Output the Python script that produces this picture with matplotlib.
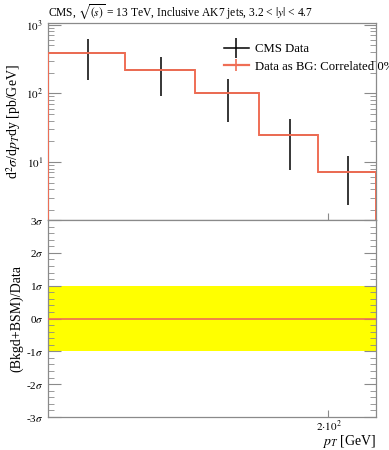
import matplotlib
matplotlib.use('Agg')
import matplotlib.pyplot as plt
import numpy as np
from matplotlib.lines import Line2D
from matplotlib.ticker import FixedLocator, LogLocator, MultipleLocator, NullLocator, NullFormatter

plt.rcParams['font.family'] = ['Liberation Serif', 'DejaVu Serif']
plt.rcParams['mathtext.fontset'] = 'stix'

# pT bin edges [GeV] and cross sections [pb/GeV]
bin_edges = [114, 133, 153, 174, 196, 220]
data_vals = [393, 217, 100, 24.8, 7.2]
data_errs = [235, 125, 62, 17.2, 4.85]
bg_vals = [393, 217, 100, 24.8, 7.2]

sig_ticks = [-3, -2, -1, 0, 1, 2, 3]
sig_labels = ['-3$\\sigma$', '-2$\\sigma$', '-1$\\sigma$', '0$\\sigma$', '1$\\sigma$', '2$\\sigma$', '3$\\sigma$']

red = '#ef6e55'
grey = '#8a8a8a'

edges = np.array(bin_edges, dtype=float)
centers = 0.5 * (edges[:-1] + edges[1:])
half = 0.5 * (edges[1:] - edges[:-1])

fig = plt.figure(figsize=(3.89, 4.5), dpi=100)
ax1 = fig.add_axes([0.1234, 0.5111, 0.8432, 0.4371])
ax2 = fig.add_axes([0.1234, 0.0733, 0.8432, 0.4378])

# upper panel
ax1.errorbar(centers, data_vals, yerr=data_errs, xerr=half, fmt='none',
             ecolor='black', elinewidth=1.1, capsize=0, zorder=2)
ax1.stairs(bg_vals, edges, color=red, lw=1.4, zorder=3)
ax1.set_xscale('log')
ax1.set_yscale('log')
ax1.set_xlim(edges[0], edges[-1])
ax1.set_ylim(1.42, 1048)
ax1.yaxis.set_major_locator(FixedLocator([10, 100, 1000]))
ax1.set_yticklabels(['$10^{1}$', '$10^{2}$', '$10^{3}$'])
ax1.yaxis.set_minor_locator(LogLocator(base=10, subs=np.arange(2, 10)))
ax1.yaxis.set_minor_formatter(NullFormatter())
ax1.xaxis.set_major_locator(FixedLocator([200]))
ax1.xaxis.set_minor_locator(NullLocator())
ax1.set_xticklabels([])
ax1.set_ylabel('d$^2\\sigma$/d$p_T$dy [pb/GeV]', fontsize=10, labelpad=2)

handles = [Line2D([], [], color='black', lw=1.1, marker='|', markersize=14, markeredgewidth=1.1),
           Line2D([], [], color=red, lw=1.6, marker='|', markersize=8, markeredgewidth=1.2)]
ax1.legend(handles, ['CMS Data', 'Data as BG: Correlated 0%'], loc='upper left',
           bbox_to_anchor=(0.52, 0.925), frameon=False, fontsize=9.2,
           handlelength=2.0, handletextpad=0.45, labelspacing=0.45, borderaxespad=0)

ax1.set_title('CMS, $\\sqrt{(s)}$ = 13 TeV, Inclusive AK7 jets, 3.2 < $|y|$ < 4.7',
              fontsize=8.3, loc='left', pad=5)

# lower panel
ax2.axhspan(-1, 1, color='#ffff00', lw=0, zorder=1)
ax2.stairs(np.zeros(len(bg_vals)), edges, color=red, lw=1.2, zorder=3)
ax2.set_xscale('log')
ax2.set_xlim(edges[0], edges[-1])
ax2.set_ylim(-3, 3)
ax2.set_yticks(sig_ticks)
ax2.set_yticklabels(sig_labels)
ax2.yaxis.set_minor_locator(MultipleLocator(0.2))
ax2.xaxis.set_major_locator(FixedLocator([200]))
ax2.xaxis.set_minor_locator(NullLocator())
ax2.set_xticklabels(['$2{\\cdot}10^{2}$'])
ax2.set_ylabel('(Bkgd+BSM)/Data', fontsize=10, labelpad=2)
ax2.set_xlabel('$p_T$ [GeV]', fontsize=10, loc='right')
ax2.xaxis.set_label_coords(1.0, -0.083)

for ax in (ax1, ax2):
    for s in ax.spines.values():
        s.set_color(grey)
        s.set_linewidth(0.9)
    ax.tick_params(which='both', direction='in', left=True, right=True, top=False,
                   bottom=True, color=grey, labelsize=8)
    ax.tick_params(which='major', axis='y', length=9, width=0.8)
    ax.tick_params(which='minor', axis='y', length=4.5, width=0.6)
    ax.tick_params(which='major', axis='x', length=5, width=0.8, pad=1)

fig.align_ylabels([ax1, ax2])
fig.savefig('out.png', dpi=100)
